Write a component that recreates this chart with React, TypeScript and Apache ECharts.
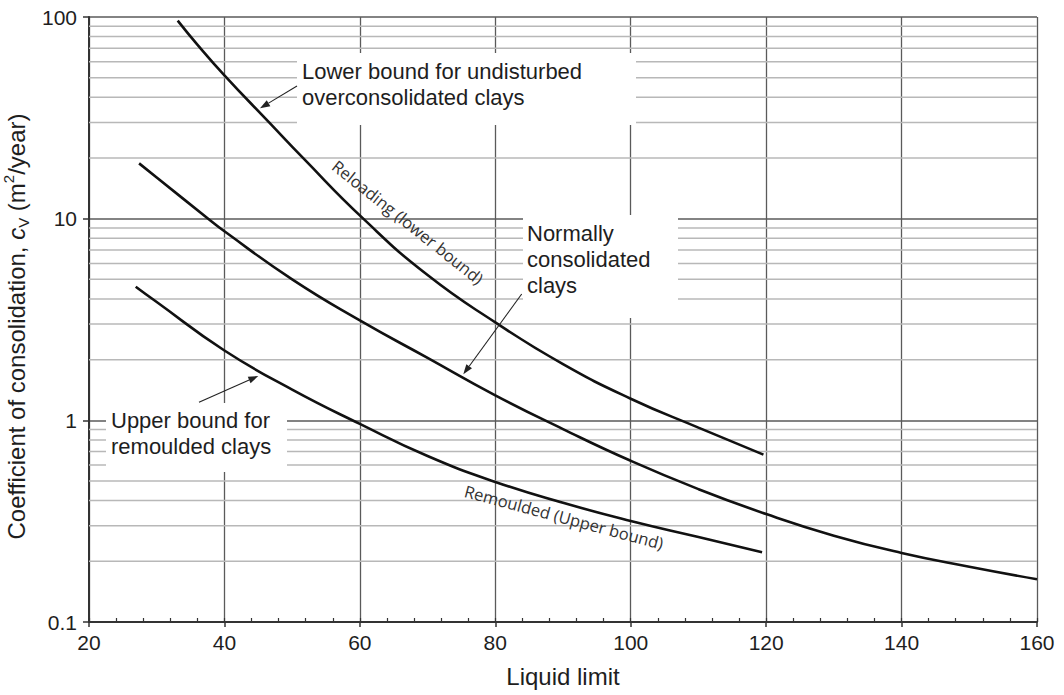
import React, { useEffect, useRef } from "react";
import * as echarts from "echarts";

// Liquid limit (x) and coefficient of consolidation cv in m²/year (y)
const liquidLimitReloading = [33.1, 36, 40, 46.6, 51.6, 60.5, 70, 80, 90, 100, 110, 119.6];
const cvReloading = [96, 73, 51.4, 30, 20, 10, 5.25, 3.06, 1.9, 1.28, 0.92, 0.676];

const liquidLimitNormal = [27.4, 30, 37.6, 40, 50, 60, 70, 80, 90, 100, 110, 120, 130, 140, 150, 160];
const cvNormal = [18.8, 16, 10, 8.66, 5.0, 3.13, 2.04, 1.33, 0.905, 0.63, 0.456, 0.343, 0.268, 0.22, 0.188, 0.163];

const liquidLimitRemoulded = [26.9, 30, 40, 50, 60, 70, 80, 90, 100, 110, 119.4];
const cvRemoulded = [4.6, 3.86, 2.22, 1.42, 0.96, 0.665, 0.495, 0.39, 0.317, 0.264, 0.222];

// minor (2..9 per decade) horizontal gridline values of the log axis
const minorGridValues = [
  0.2, 0.3, 0.4, 0.5, 0.6, 0.7, 0.8, 0.9,
  2, 3, 4, 5, 6, 7, 8, 9,
  20, 30, 40, 50, 60, 70, 80, 90,
];

const xMin = 20;
const xMax = 160;
const xStep = 20;
const xMinorStep = 4;
const yMin = 0.1;
const yMax = 100;

const FONT = "'Liberation Sans', Arial, Helvetica, sans-serif";
const TXT = "#1e1e1e";

function arrow(tail: number[], tip: number[]) {
  const dx = tip[0] - tail[0];
  const dy = tip[1] - tail[1];
  const len = Math.sqrt(dx * dx + dy * dy);
  const ux = dx / len;
  const uy = dy / len;
  const hl = 10;
  const hw = 3.5;
  const bx = tip[0] - ux * hl;
  const by = tip[1] - uy * hl;
  return [
    {
      type: "line",
      z: 5,
      silent: true,
      shape: { x1: tail[0], y1: tail[1], x2: bx, y2: by },
      style: { stroke: "#222", lineWidth: 1.1 },
    },
    {
      type: "polygon",
      z: 5,
      silent: true,
      shape: {
        points: [
          [tip[0], tip[1]],
          [bx - uy * hw, by + ux * hw],
          [bx + uy * hw, by - ux * hw],
        ],
      },
      style: { fill: "#222" },
    },
  ];
}

export default function App() {
  const ref = useRef<HTMLDivElement>(null);

  useEffect(() => {
    const chart = echarts.init(ref.current!, null, { renderer: "svg" });

    const curve = (name: string, xs: number[], ys: number[]) => ({
      type: "line",
      name,
      xAxisIndex: 0,
      data: xs.map((x, i) => [x, ys[i]]),
      smooth: 0.5,
      symbol: "none",
      lineStyle: { color: "#111", width: 2.6 },
      z: 3,
      silent: true,
    });

    const minorSeries = minorGridValues.map((v) => ({
      type: "line",
      xAxisIndex: 0,
      data: [
        [xMin, v],
        [xMax, v],
      ],
      symbol: "none",
      lineStyle: { color: "#b8b8b8", width: 1.5 },
      z: 0,
      silent: true,
    }));

    const graphic: any[] = [
      // white label boxes
      { type: "rect", z: 1, silent: true, shape: { x: 297, y: 53, width: 339, height: 72 }, style: { fill: "#fff" } },
      { type: "rect", z: 1, silent: true, shape: { x: 523, y: 215, width: 155, height: 103 }, style: { fill: "#fff" } },
      { type: "rect", z: 1, silent: true, shape: { x: 106, y: 403, width: 181, height: 69 }, style: { fill: "#fff" } },
      {
        type: "text", z: 5, silent: true, x: 302, y: 58,
        style: { text: "Lower bound for undisturbed\noverconsolidated clays", font: `22px ${FONT}`, fill: TXT, lineHeight: 26 },
      },
      {
        type: "text", z: 5, silent: true, x: 527, y: 220,
        style: { text: "Normally\nconsolidated\nclays", font: `22px ${FONT}`, fill: TXT, lineHeight: 26 },
      },
      {
        type: "text", z: 5, silent: true, x: 111, y: 407,
        style: { text: "Upper bound for\nremoulded clays", font: `22px ${FONT}`, fill: TXT, lineHeight: 26 },
      },
      {
        type: "text", z: 5, silent: true, x: 408, y: 222, rotation: (-38.5 * Math.PI) / 180,
        style: { text: "Reloading (lower bound)", font: `16.5px 'Open Sans', sans-serif`, fill: "#333", align: "center", verticalAlign: "middle" },
      },
      {
        type: "text", z: 5, silent: true, x: 564, y: 517, rotation: (-15 * Math.PI) / 180,
        style: { text: "Remoulded (Upper bound)", font: `16.5px 'Open Sans', sans-serif`, fill: "#333", align: "center", verticalAlign: "middle" },
      },
      ...arrow([297, 86], [260, 108.3]),
      ...arrow([521.7, 294], [463.3, 374.3]),
      ...arrow([199, 402.3], [258.3, 376]),
    ];

    chart.setOption({
      animation: false,
      backgroundColor: "#fff",
      grid: { left: 89, right: 27, top: 17, bottom: 73, containLabel: false, outerBoundsMode: "none" },
      xAxis: [
        {
          type: "value",
          position: "bottom",
          min: xMin,
          max: xMax,
          interval: xStep,
          name: "Liquid limit",
          nameLocation: "middle",
          nameGap: 42,
          nameTextStyle: { fontFamily: FONT, fontSize: 24, color: TXT },
          axisLine: { show: true, lineStyle: { color: "#333", width: 2 } },
          axisTick: { show: true, inside: false, length: 5, lineStyle: { color: "#333", width: 1.5 } },
          axisLabel: { fontFamily: FONT, fontSize: 21, color: TXT, margin: 10 },
          splitLine: { show: true, lineStyle: { color: "#5a5a5a", width: 1.3 } },
        },
        {
          type: "value",
          position: "bottom",
          offset: 0,
          min: xMin,
          max: xMax,
          interval: xMinorStep,
          axisLine: { show: false },
          axisTick: { show: true, inside: true, length: 4, lineStyle: { color: "#333", width: 1.2 } },
          axisLabel: { show: false },
          splitLine: { show: false },
        },
      ],
      yAxis: {
        type: "log",
        logBase: 10,
        min: yMin,
        max: yMax,
        name: "{n|Coefficient of consolidation, }{i|c}{sub|V}{n| (m}{sup|2}{n|/year)}",
        nameLocation: "middle",
        nameRotate: 90,
        nameGap: 49,
        nameTextStyle: {
          fontFamily: FONT,
          fontSize: 24,
          color: TXT,
          padding: [0, 14, 0, 0],
          rich: {
            n: { fontFamily: FONT, fontSize: 24, color: TXT, lineHeight: 30 },
            i: { fontFamily: FONT, fontSize: 24, color: TXT, fontStyle: "italic", lineHeight: 30 },
            sub: { fontFamily: FONT, fontSize: 15, color: TXT, verticalAlign: "bottom", lineHeight: 30 },
            sup: { fontFamily: FONT, fontSize: 15, color: TXT, verticalAlign: "top", lineHeight: 30 },
          },
        },
        axisLine: { show: true, lineStyle: { color: "#333", width: 2 } },
        axisTick: { show: true, inside: false, length: 6, lineStyle: { color: "#333", width: 1.5 } },
        axisLabel: { fontFamily: FONT, fontSize: 21, color: TXT, margin: 12 },
        splitLine: { show: true, lineStyle: { color: "#5a5a5a", width: 1.5 } },
      },
      series: [
        ...minorSeries,
        curve("Reloading (lower bound)", liquidLimitReloading, cvReloading),
        curve("Normally consolidated clays", liquidLimitNormal, cvNormal),
        curve("Remoulded (Upper bound)", liquidLimitRemoulded, cvRemoulded),
      ],
      graphic,
    });

    return () => chart.dispose();
  }, []);

  return <div ref={ref} style={{ position: "fixed", left: 0, top: 0, width: 1064, height: 695 }} />;
}
